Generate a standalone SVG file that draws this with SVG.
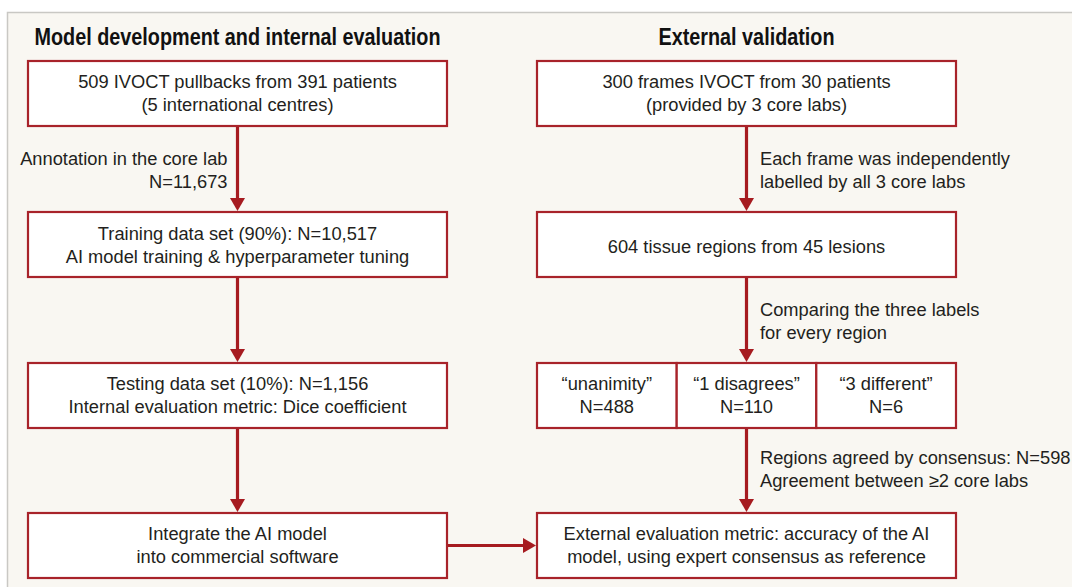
<svg xmlns="http://www.w3.org/2000/svg" width="1072" height="587" viewBox="0 0 1072 587">
  <style>
    .panel { fill: #f9f7f2; stroke: #c9c8c4; stroke-width: 1.5; }
    .box { fill: #ffffff; stroke: #a8232a; stroke-width: 2.2; }
    .t { font-family: "Liberation Sans", Arial, sans-serif; font-size: 18.3px; fill: #231f20; }
    .c { text-anchor: middle; }
    .e { text-anchor: end; }
    .h { font-family: "Liberation Sans Narrow", "Liberation Sans", Arial, sans-serif; font-weight: bold; font-size: 23.5px; fill: #111111; text-anchor: middle; }
    .conn { fill: none; stroke: #a61b20; stroke-width: 3.2; marker-end: url(#ah); }
  </style>
  <defs>
    <marker id="ah" markerUnits="userSpaceOnUse" viewBox="0 0 13 15" refX="6" refY="7.5" markerWidth="13" markerHeight="15" orient="auto">
      <path d="M0,0 L13,7.5 L0,15 Z" fill="#a61b20"/>
    </marker>
  </defs>
  <rect x="0" y="0" width="1072" height="587" fill="#ffffff"/>
  <rect class="panel" x="7.5" y="12.5" width="1100" height="600"/>

  <g id="headings">
    <text class="h" x="237.5" y="45" textLength="406" lengthAdjust="spacingAndGlyphs">Model development and internal evaluation</text>
    <text class="h" x="746.5" y="45" textLength="176" lengthAdjust="spacingAndGlyphs">External validation</text>
  </g>

  <g id="connectors">
    <line class="conn" x1="237.5" y1="126" x2="237.5" y2="204"/>
    <line class="conn" x1="237.5" y1="277" x2="237.5" y2="355"/>
    <line class="conn" x1="237.5" y1="428" x2="237.5" y2="505"/>
    <line class="conn" x1="746.5" y1="126" x2="746.5" y2="204"/>
    <line class="conn" x1="746.5" y1="277" x2="746.5" y2="355"/>
    <line class="conn" x1="746.5" y1="428" x2="746.5" y2="505"/>
    <line class="conn" x1="447" y1="545.5" x2="529" y2="545.5"/>
  </g>

  <g id="connector-labels">
    <text class="t e" x="227.5" y="165">Annotation in the core lab</text>
    <text class="t e" x="227.5" y="188.3">N=11,673</text>
    <text class="t" x="760" y="165">Each frame was independently</text>
    <text class="t" x="760" y="188.3">labelled by all 3 core labs</text>
    <text class="t" x="760" y="316">Comparing the three labels</text>
    <text class="t" x="760" y="339.3">for every region</text>
    <text class="t" x="760" y="464">Regions agreed by consensus: N=598</text>
    <text class="t" x="760" y="487">Agreement between ≥2 core labs</text>
  </g>

  <g id="n-pullbacks">
    <rect class="box" x="28" y="61" width="419" height="65"/>
    <text class="t c" x="237.5" y="88.3">509 IVOCT pullbacks from 391 patients</text>
    <text class="t c" x="237.5" y="111.3">(5 international centres)</text>
  </g>
  <g id="n-training">
    <rect class="box" x="28" y="212" width="419" height="65"/>
    <text class="t c" x="237.5" y="240">Training data set (90%): N=10,517</text>
    <text class="t c" x="237.5" y="263.3">AI model training &amp; hyperparameter tuning</text>
  </g>
  <g id="n-testing">
    <rect class="box" x="28" y="363" width="419" height="65"/>
    <text class="t c" x="237.5" y="389.5">Testing data set (10%): N=1,156</text>
    <text class="t c" x="237.5" y="412.8">Internal evaluation metric: Dice coefficient</text>
  </g>
  <g id="n-integrate">
    <rect class="box" x="28" y="513" width="419" height="65"/>
    <text class="t c" x="237.5" y="540">Integrate the AI model</text>
    <text class="t c" x="237.5" y="563.3">into commercial software</text>
  </g>

  <g id="n-frames">
    <rect class="box" x="537" y="61" width="419" height="65"/>
    <text class="t c" x="746.5" y="88.3">300 frames IVOCT from 30 patients</text>
    <text class="t c" x="746.5" y="111.3">(provided by 3 core labs)</text>
  </g>
  <g id="n-regions">
    <rect class="box" x="537" y="212" width="419" height="65"/>
    <text class="t c" x="746.5" y="252.5">604 tissue regions from 45 lesions</text>
  </g>
  <g id="n-unanimity">
    <rect class="box" x="537" y="363" width="139.7" height="65"/>
    <text class="t c" x="606.8" y="389.5">“unanimity”</text>
    <text class="t c" x="606.8" y="412.8">N=488</text>
  </g>
  <g id="n-disagrees">
    <rect class="box" x="676.7" y="363" width="139.6" height="65"/>
    <text class="t c" x="746.5" y="389.5">“1 disagrees”</text>
    <text class="t c" x="746.5" y="412.8">N=110</text>
  </g>
  <g id="n-different">
    <rect class="box" x="816.3" y="363" width="139.7" height="65"/>
    <text class="t c" x="886.1" y="389.5">“3 different”</text>
    <text class="t c" x="886.1" y="412.8">N=6</text>
  </g>
  <g id="n-external">
    <rect class="box" x="537" y="513" width="419" height="65"/>
    <text class="t c" x="746.5" y="540">External evaluation metric: accuracy of the AI</text>
    <text class="t c" x="746.5" y="563.3">model, using expert consensus as reference</text>
  </g>
</svg>
